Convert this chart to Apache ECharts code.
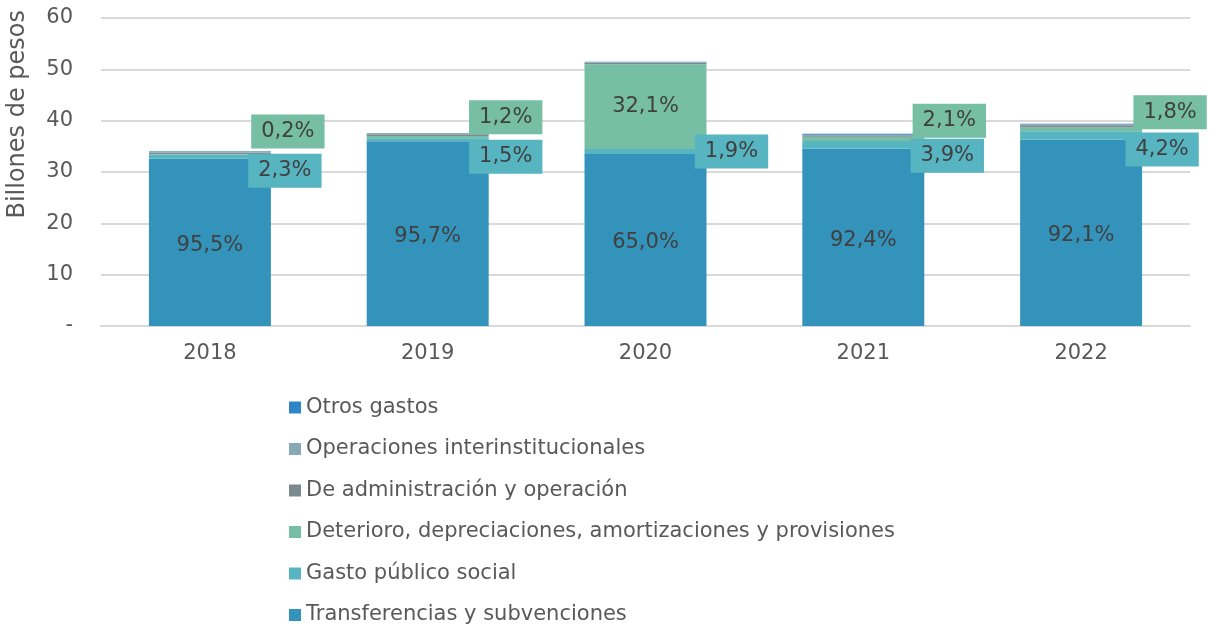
<!DOCTYPE html>
<html>
<head>
  <meta charset="utf-8">
  <title>Gastos por tipo</title>
  <script src="https://cdn.jsdelivr.net/npm/echarts@6/dist/echarts.min.js"></script>
  <style>
    html, body { margin: 0; padding: 0; background: #fff; }
    #chart { width: 1209px; height: 626px; }
  </style>
</head>
<body>
<div id="chart"></div>
<script type="text/javascript">
// datos (billones de pesos)
var years = ['2018', '2019', '2020', '2021', '2022'];
var transferencias = [32.6, 36.0, 33.5, 34.6, 36.3];
var gastoSocial = [0.78, 0.56, 0.98, 1.46, 1.65];
var deterioro = [0.07, 0.45, 16.5, 0.79, 0.71];
var administracion = [0.35, 0.35, 0.3, 0.3, 0.45];
var interinstitucionales = [0.25, 0.2, 0.15, 0.1, 0.15];
var otros = [0.05, 0.05, 0.05, 0.2, 0.15];

// participaciones mostradas en las etiquetas
var pctTransferencias = [95.5, 95.7, 65.0, 92.4, 92.1];
var pctGastoSocial = [2.3, 1.5, 1.9, 3.9, 4.2];
var pctDeterioro = [0.2, 1.2, 32.1, 2.1, 1.8];

var yTicks = [0, 10, 20, 30, 40, 50, 60];

// desplazamiento de las etiquetas tipo callout
var offGastoSocial = [[75, 14], [78, 17], [86, 0], [84, 11], [81, 14]];
var offDeterioro = [[78, -23], [78, -20], null, [86, -18], [89, -17]];

var txt = '#595959';
var font = 'DejaVu Sans';

function fmt(p) {
  return p.toFixed(1).replace('.', ',') + '%';
}

function calloutData(vals, pcts, offs, bg) {
  return vals.map(function (v, i) {
    var item = { value: v };
    var lab = {
      show: true,
      formatter: fmt(pcts[i]),
      position: 'inside',
      color: '#404040',
      fontSize: 21,
      lineHeight: 24,
      fontFamily: font
    };
    if (offs[i]) {
      lab.offset = offs[i];
      lab.backgroundColor = bg;
      lab.padding = [5, 10, 5, 10];
    }
    item.label = lab;
    return item;
  });
}

var colors = {
  transfer: '#3493BB',
  social: '#57B5C1',
  deterioro: '#76BEA4',
  admin: '#7B8A8E',
  inter: '#86A9B5',
  otros: '#2E86C8'
};

var chart = echarts.init(document.getElementById('chart'));
chart.setOption({
  animation: false,
  textStyle: { fontFamily: font },
  grid: { left: 101, right: 19, top: 18, bottom: 300 },
  graphic: [{
    type: 'text',
    left: 6,
    top: 10,
    rotation: Math.PI / 2,
    style: {
      text: 'Billones de pesos',
      fill: txt,
      font: '24px "DejaVu Sans"'
    }
  }],
  legend: {
    orient: 'vertical',
    left: 289,
    top: 396.5,
    padding: 0,
    itemWidth: 12,
    itemHeight: 12,
    itemGap: 19.5,
    icon: 'rect',
    textStyle: { color: txt, fontSize: 21, fontFamily: font, lineHeight: 22 },
    data: ['Otros gastos', 'Operaciones interinstitucionales', 'De administración y operación',
      'Deterioro, depreciaciones, amortizaciones y provisiones', 'Gasto público social',
      'Transferencias y subvenciones']
  },
  xAxis: {
    type: 'category',
    data: years,
    axisLine: { lineStyle: { color: '#D9D9D9', width: 2 } },
    axisTick: { show: false },
    axisLabel: { color: txt, fontSize: 21, margin: 17 }
  },
  yAxis: {
    type: 'value',
    min: yTicks[0],
    max: yTicks[yTicks.length - 1],
    interval: 10,
    axisLine: { show: false },
    axisTick: { show: false },
    splitLine: { lineStyle: { color: '#D9D9D9', width: 2 } },
    axisLabel: {
      color: txt,
      fontSize: 21,
      margin: 28,
      formatter: function (v) { return v === 0 ? '-' : v; }
    }
  },
  series: [
    {
      name: 'Transferencias y subvenciones', type: 'bar', stack: 'g',
      barCategoryGap: '44%',
      itemStyle: { color: colors.transfer },
      data: transferencias.map(function (v, i) {
        return { value: v, label: { show: true, position: 'inside', formatter: fmt(pctTransferencias[i]),
          color: '#404040', fontSize: 21, fontFamily: font, offset: [0, 3] } };
      })
    },
    {
      name: 'Gasto público social', type: 'bar', stack: 'g',
      itemStyle: { color: colors.social },
      data: calloutData(gastoSocial, pctGastoSocial, offGastoSocial, colors.social)
    },
    {
      name: 'Deterioro, depreciaciones, amortizaciones y provisiones', type: 'bar', stack: 'g',
      itemStyle: { color: colors.deterioro },
      data: calloutData(deterioro, pctDeterioro, offDeterioro, colors.deterioro)
    },
    {
      name: 'De administración y operación', type: 'bar', stack: 'g',
      itemStyle: { color: colors.admin },
      data: administracion
    },
    {
      name: 'Operaciones interinstitucionales', type: 'bar', stack: 'g',
      itemStyle: { color: colors.inter },
      data: interinstitucionales
    },
    {
      name: 'Otros gastos', type: 'bar', stack: 'g',
      itemStyle: { color: colors.otros },
      data: otros
    }
  ]
});
</script>
</body>
</html>
